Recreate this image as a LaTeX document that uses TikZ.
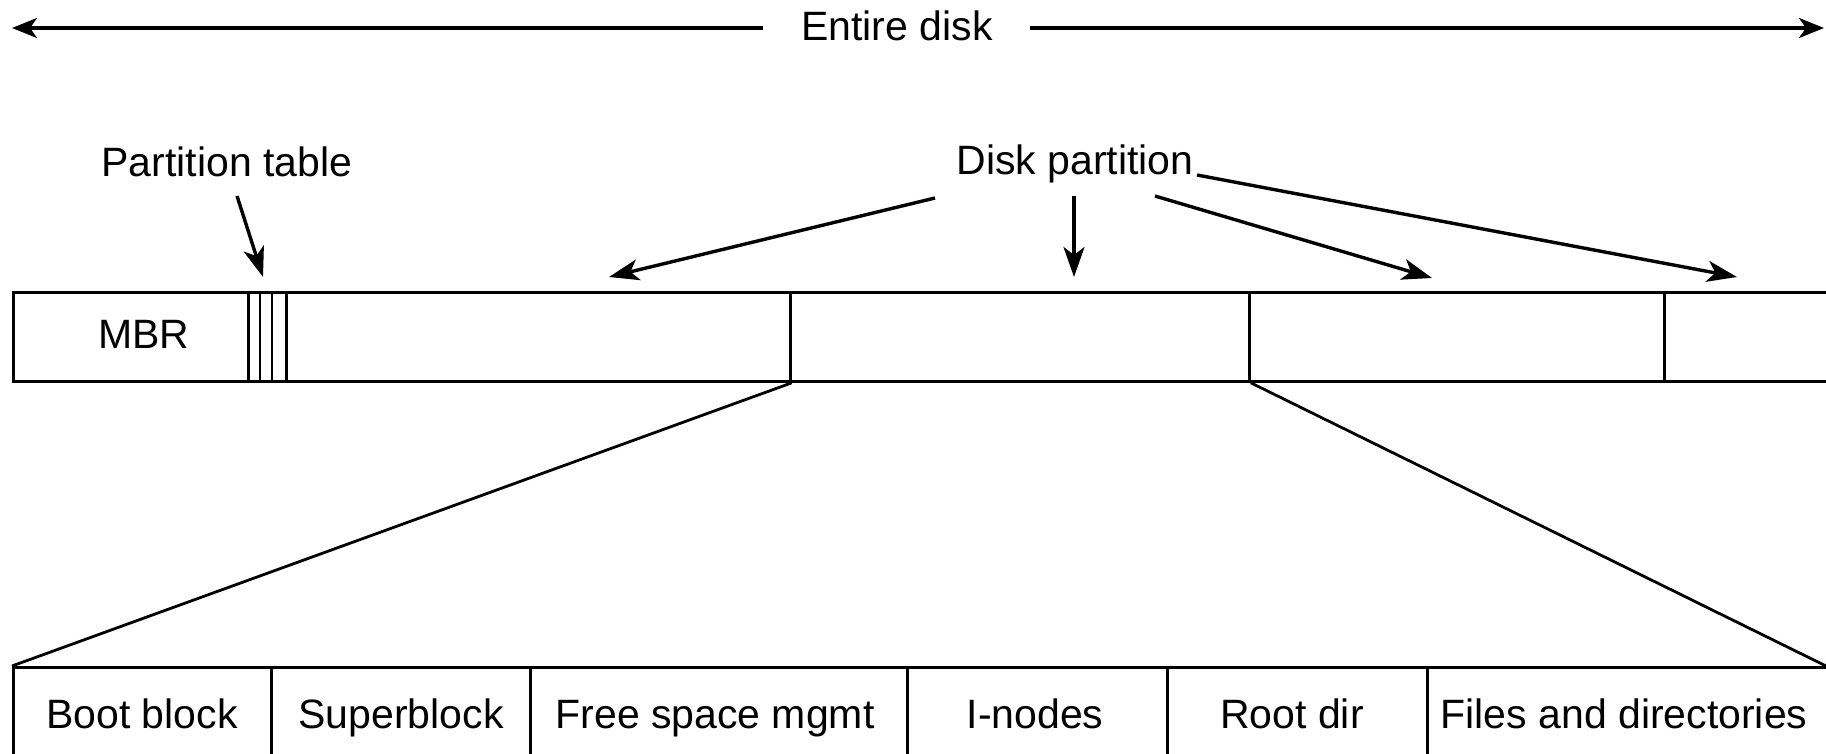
\documentclass[tikz,border=0pt]{standalone}
\usepackage{fontspec}
\setmainfont{Liberation Sans}
\usetikzlibrary{arrows.meta}
\begin{document}
\begin{tikzpicture}[x=1pt,y=-1pt,
  lbl/.style={font=\fontsize{41}{48}\selectfont, inner sep=0pt, anchor=base},
  cell/.style={draw, line width=2.8pt, minimum height=89pt, inner sep=0pt, anchor=north west},
  arr/.style={line width=3.4pt, -{Stealth[length=30pt,width=21pt,inset=8pt]}},
  thinline/.style={line width=2.8pt}
]
\useasboundingbox (0,0) rectangle (1826,754);
\clip (0,0) rectangle (1826,754);
% Entire disk
\node[lbl] (ed) at (897,41) {Entire disk};
\coordinate (edl) at (12,28);
\coordinate (edr) at (1824,28);
\coordinate (edls) at (763,28);
\coordinate (edrs) at (1030,28);
\draw[arr, -{Stealth[length=25pt,width=20pt,inset=7pt]}] (edls) -- (edl);
\draw[arr, -{Stealth[length=25pt,width=20pt,inset=7pt]}] (edrs) -- (edr);
% top bar
\node[cell, minimum width=235pt] (mbr) at (12,291) {};
\node[lbl] at (144,348) {MBR};
\node[cell, minimum width=38pt] (pt) at (247,291) {};
\draw[thinline] (260,291) -- (260,380);
\draw[thinline] (272,291) -- (272,380);
\node[cell, minimum width=504pt] (p1) at (285,291) {};
\node[cell, minimum width=459pt] (p2) at (789,291) {};
\node[cell, minimum width=415pt] (p3) at (1248,291) {};
\node[cell, minimum width=180pt] (p4) at (1663,291) {};
% labels
\node[lbl] (ptl) at (227,177) {Partition table};
\node[lbl] (dp) at (1075,175) {Disk partition};
\coordinate (t0) at (263,277);
\draw[arr] ([shift={(10,19)}]ptl.base) -- (t0);
\coordinate (t1) at (609,277);
\coordinate (t2) at (1074,277);
\coordinate (t3) at (1432,278);
\coordinate (t4) at (1737,277);
\draw[arr] ([shift={(-140,23)}]dp.base) -- (t1);
\draw[arr] ([shift={(-1,21)}]dp.base) -- (t2);
\draw[arr] ([shift={(80,21)}]dp.base) -- (t3);
\draw[arr] ([shift={(122,0)}]dp.base) -- (t4);
% bottom bar
\node[cell, minimum width=258pt] (b1) at (12,666) {};
\node[cell, minimum width=259pt] (b2) at (270,666) {};
\node[cell, minimum width=377pt] (b3) at (529,666) {};
\node[cell, minimum width=260pt] (b4) at (906,666) {};
\node[cell, minimum width=260pt] (b5) at (1166,666) {};
\node[cell, minimum width=420pt] (b6) at (1426,666) {};
\node[lbl] at (142,728) {Boot block};
\node[lbl] at (401,728) {Superblock};
\node[lbl] at (715,728) {Free space mgmt};
\node[lbl] at (1035,728) {I-nodes};
\node[lbl] at (1292,728) {Root dir};
\node[lbl] at (1624,728) {Files and directories};
% expansion lines
\coordinate (rend) at (1826,666);
\draw[thinline] (p1.south east) -- (b1.north west);
\draw[thinline] (p2.south east) -- (rend);
\end{tikzpicture}
\end{document}
